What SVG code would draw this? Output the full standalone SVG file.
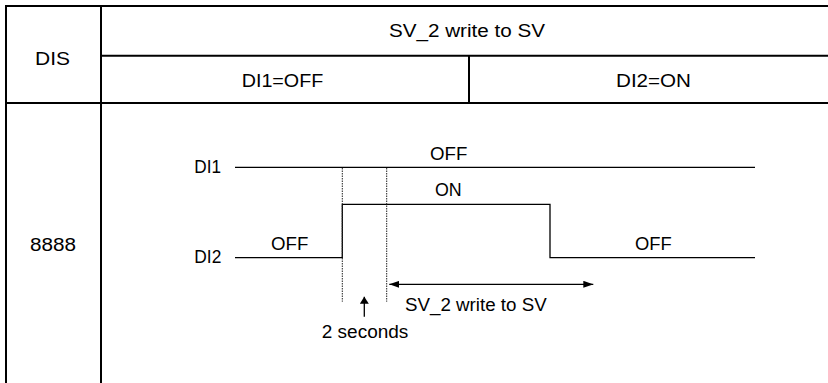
<svg xmlns="http://www.w3.org/2000/svg" width="828" height="383" viewBox="0 0 828 383">
<style>
text { font-family: "Liberation Sans", Arial, sans-serif; font-size: 18px; fill: #000; }
.grid { stroke: #000; stroke-width: 2; fill: none; }
.sig { stroke: #000; stroke-width: 1.3; fill: none; }
.dot { stroke: #222; stroke-width: 1; stroke-dasharray: 1.5 1; fill: none; }
.arr { stroke: #000; stroke-width: 1.3; fill: none; }
</style>
<defs>
<marker id="ah" viewBox="0 0 10 7" refX="10" refY="3.5" markerWidth="10" markerHeight="7" markerUnits="userSpaceOnUse" orient="auto-start-reverse"><path d="M0,0 L10,3.5 L0,7 z" fill="#000"/></marker>
<marker id="ahs" viewBox="0 0 7 9" refX="7" refY="4.5" markerWidth="7" markerHeight="9" markerUnits="userSpaceOnUse" orient="auto"><path d="M0,0 L7,4.5 L0,9 z" fill="#000"/></marker>
</defs>
<rect width="828" height="383" fill="#fff"/>
<g id="table">
<path class="grid" d="M5,6 H828 M6,5 V383 M101,6 V383 M101,55.7 H828 M5,103 H828 M469,55.7 V103"/>
<text x="35" y="64.5" textLength="35" lengthAdjust="spacingAndGlyphs">DIS</text>
<text x="389" y="37" textLength="156" lengthAdjust="spacingAndGlyphs">SV_2 write to SV</text>
<text x="241.7" y="86.7" textLength="81.6" lengthAdjust="spacingAndGlyphs">DI1=OFF</text>
<text x="616" y="86.7" textLength="75" lengthAdjust="spacingAndGlyphs">DI2=ON</text>
<text x="30" y="251" textLength="46" lengthAdjust="spacingAndGlyphs">8888</text>
</g>
<g id="DI1">
<text x="194.3" y="172.7" textLength="26.7" lengthAdjust="spacingAndGlyphs">DI1</text>
<text x="430" y="160" textLength="37.3" lengthAdjust="spacingAndGlyphs">OFF</text>
</g>
<g id="DI2">
<text x="194.3" y="263.3" textLength="27" lengthAdjust="spacingAndGlyphs">DI2</text>
<text x="271" y="250" textLength="37.3" lengthAdjust="spacingAndGlyphs">OFF</text>
<text x="435" y="195.7" textLength="26.7" lengthAdjust="spacingAndGlyphs">ON</text>
<text x="635" y="250" textLength="36.7" lengthAdjust="spacingAndGlyphs">OFF</text>
</g>
<g id="annotations">
<text x="405" y="311" textLength="141.7" lengthAdjust="spacingAndGlyphs">SV_2 write to SV</text>
<text x="321.7" y="338.3" textLength="86.7" lengthAdjust="spacingAndGlyphs">2 seconds</text>
</g>
<g id="connectors">
<path class="sig" d="M235,167.3 H755"/>
<path class="sig" d="M235,257.7 H342.3 V204.3 H550 V257.7 H755"/>
<path class="dot" d="M342.3,168 V301.7 M386.7,168 V301.7"/>
<path class="arr" d="M364.3,316.7 V296.7" marker-end="url(#ahs)"/>
<path class="arr" d="M389.3,284.3 H593.3" marker-start="url(#ah)" marker-end="url(#ah)"/>
</g>
</svg>
